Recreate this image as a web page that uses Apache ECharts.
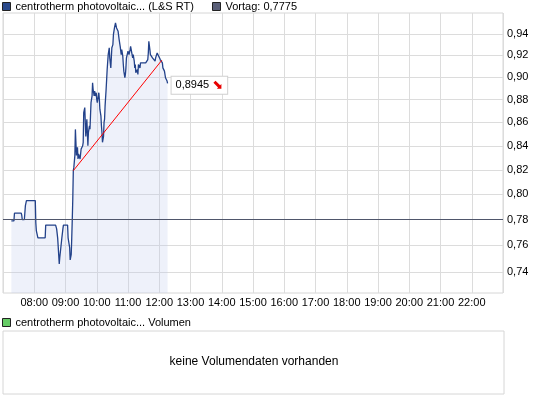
<!DOCTYPE html>
<html><head><meta charset="utf-8">
<script src="https://cdn.jsdelivr.net/npm/echarts@6/dist/echarts.min.js"></script>
<style>html,body{margin:0;padding:0;background:#fff}#c{width:545px;height:398px}</style>
</head><body><div id="c"></div>
<script>
// ---- data ----
const day = '2011-06-01';
const times = [
'07:16','07:21','07:22','07:35','07:36','07:37','07:41','07:43','07:45','08:02',
'08:03','08:04','08:06','08:07','08:21','08:22','08:41','08:43','08:45','08:48',
'08:49','08:51','08:53','08:55','08:56','09:04','09:05','09:08','09:09','09:11',
'09:12','09:13','09:14','09:15','09:16','09:18','09:19','09:20','09:21','09:23',
'09:24','09:25','09:27','09:28','09:29','09:30','09:32','09:33','09:34','09:35',
'09:37','09:38','09:39','09:41','09:42','09:43','09:44','09:46','09:47','09:48',
'09:49','09:51','09:52','09:53','09:55','09:56','09:57','09:59','10:00','10:01',
'10:02','10:04','10:05','10:06','10:08','10:09','10:10','10:11','10:13','10:14',
'10:15','10:16','10:18','10:19','10:20','10:22','10:23','10:24','10:25','10:27',
'10:28','10:29','10:31','10:32','10:33','10:34','10:36','10:37','10:38','10:40',
'10:41','10:42','10:43','10:45','10:46','10:47','10:48','10:50','10:51','10:52',
'10:54','10:55','10:56','10:57','10:59','11:00','11:01','11:02','11:04','11:05',
'11:06','11:08','11:09','11:10','11:12','11:13','11:14','11:15','11:17','11:18',
'11:19','11:20','11:22','11:23','11:24','11:25','11:26','11:29','11:31','11:34',
'11:36','11:38','11:39','11:40','11:42','11:43','11:44','11:45','11:47','11:48',
'11:49','11:50','11:52','11:53','11:54','11:56','11:57','11:58','11:59','12:01',
'12:02','12:03','12:05','12:06','12:07','12:08','12:10','12:11','12:12','12:13',
'12:15','12:16'
];
const prices = [
0.7790,0.7790,0.7850,0.7850,0.7834,0.7800,0.7800,0.7910,0.7950,0.7950,
0.7775,0.7714,0.7705,0.7658,0.7658,0.7757,0.7757,0.7727,0.7656,0.7460,
0.7508,0.7582,0.7658,0.7727,0.7757,0.7757,0.7658,0.7582,0.7490,0.7532,
0.7656,0.7800,0.7965,0.8193,0.8220,0.8320,0.8540,0.8528,0.8320,0.8387,
0.8290,0.8332,0.8346,0.8290,0.8332,0.8373,0.8360,0.8401,0.8430,0.8686,
0.8730,0.8600,0.8480,0.8628,0.8514,0.8401,0.8514,0.8571,0.8542,0.8657,
0.8773,0.8832,0.8950,0.8891,0.8832,0.8876,0.8832,0.8861,0.8802,0.8773,
0.8802,0.8861,0.8802,0.8715,0.8657,0.8571,0.8514,0.8430,0.8480,0.8600,
0.8628,0.8744,0.8891,0.8980,0.9070,0.9207,0.9192,0.9270,0.9177,0.9085,
0.9177,0.9270,0.9300,0.9393,0.9393,0.9457,0.9504,0.9504,0.9457,0.9440,
0.9425,0.9409,0.9347,0.9284,0.9300,0.9207,0.9253,0.9192,0.9116,0.9055,
0.8995,0.9025,0.9085,0.9177,0.9192,0.9238,0.9253,0.9207,0.9253,0.9284,
0.9300,0.9270,0.9177,0.9207,0.9146,0.9085,0.9116,0.9040,0.9025,0.9070,
0.9025,0.9116,0.9100,0.9085,0.9131,0.9116,0.9146,0.9131,0.9146,0.9131,
0.9146,0.9161,0.9222,0.9331,0.9253,0.9207,0.9222,0.9192,0.9177,0.9192,
0.9177,0.9192,0.9146,0.9177,0.9192,0.9222,0.9222,0.9207,0.9192,0.9177,
0.9161,0.9155,0.9146,0.9131,0.9085,0.9070,0.9055,0.9040,0.8995,0.8980,
0.8965,0.8945
];
const trendTimes = ['09:15', '12:05'];
const trendPrices = [0.8193, 0.9155];
const prevClose = 0.7775;
const yTicks = [0.74, 0.76, 0.78, 0.80, 0.82, 0.84, 0.86, 0.88, 0.90, 0.92, 0.94];
const yRange = [0.7245, 0.96];
const xRange = ['07:00', '23:00'];
const seriesName = 'centrotherm photovoltaic... (L&S RT)';
const prevName = 'Vortag: 0,7775';
const volName = 'centrotherm photovoltaic... Volumen';
const noVolText = 'keine Volumendaten vorhanden';

// ---- chart ----
const font = '"Liberation Sans", Arial, sans-serif';
const ts = t => day + ' ' + t;
const comma = (v, d) => v.toFixed(d).replace('.', ',');
const xMin = echarts.time.parse(ts(xRange[0])).getTime();
const xMax = echarts.time.parse(ts(xRange[1])).getTime();
const chart = echarts.init(document.getElementById('c'), null, {renderer: 'canvas'});
const legendBase = {padding: 0, icon: 'rect', itemWidth: 8, itemHeight: 8, itemGap: 5,
  selectedMode: false, textStyle: {fontSize: 11, color: '#000', fontFamily: font}};
chart.setOption({
  animation: false,
  textStyle: {fontFamily: font},
  legend: [
    Object.assign({left: 2, top: 1, data: [{name: seriesName, itemStyle: {color: '#2b4a8b', borderColor: '#222', borderWidth: 1}}]}, legendBase),
    Object.assign({left: 212, top: 1, data: [{name: prevName, itemStyle: {color: '#5a5f78', borderColor: '#222', borderWidth: 1}}]}, legendBase),
    Object.assign({left: 2, top: 317, data: [{name: volName, itemStyle: {color: '#66cc66', borderColor: '#222', borderWidth: 1}}]}, legendBase)
  ],
  grid: [
    {left: 3, top: 13, width: 500, height: 280, show: true, borderColor: '#d6d6d6', borderWidth: 1, containLabel: false, outerBoundsMode: 'none'},
    {left: 3, top: 331, width: 501, height: 63, show: true, borderColor: '#d6d6d6', borderWidth: 1, containLabel: false, outerBoundsMode: 'none'}
  ],
  xAxis: [
    {type: 'time', gridIndex: 0, min: xMin, max: xMax,
     minInterval: 3600000, maxInterval: 3600000,
     axisLine: {show: false}, axisTick: {show: false},
     splitLine: {show: true, lineStyle: {color: '#dcdcdc', width: 1}},
     axisLabel: {formatter: v => (v <= xMin || v >= xMax) ? '' : echarts.time.format(v, '{HH}:{mm}', false),
       fontSize: 11, color: '#000', margin: 4, hideOverlap: false}},
    {type: 'value', gridIndex: 1, show: false, min: 0, max: 1}
  ],
  yAxis: [
    {type: 'log', gridIndex: 0, position: 'right', min: yRange[0], max: yRange[1],
     axisLine: {show: false}, axisTick: {show: false, customValues: yTicks},
     splitLine: {show: true, lineStyle: {color: '#dcdcdc', width: 1}},
     axisLabel: {customValues: yTicks, formatter: v => comma(v, 2), fontSize: 11, color: '#000', margin: 4}},
    {type: 'value', gridIndex: 1, show: false, min: 0, max: 1}
  ],
  graphic: [
    {type: 'text', x: 254, y: 362, silent: true,
     style: {text: noVolText, fontSize: 12, fill: '#000', fontFamily: font, align: 'center', verticalAlign: 'middle'}}
  ],
  series: [
    {type: 'line', name: prevName, xAxisIndex: 0, yAxisIndex: 0, data: [],
     itemStyle: {color: '#5a5f78'},
     markLine: {symbol: 'none', silent: true, label: {show: false},
       lineStyle: {color: '#4f566b', width: 1, type: 'solid'}, data: [{yAxis: prevClose}]}},
    {type: 'line', name: seriesName, xAxisIndex: 0, yAxisIndex: 0, z: 3,
     data: times.map((t, i) => [ts(t), prices[i]]),
     symbol: 'none', showSymbol: false,
     lineStyle: {color: '#23428a', width: 1.3},
     itemStyle: {color: '#23428a'},
     areaStyle: {color: 'rgba(192,204,235,0.38)', origin: 'start'},
     endLabel: {show: true, distance: 4, offset: [0, 2],
       formatter: p => comma(p.value[1], 4) + ' {a|\u2B0A}',
       backgroundColor: '#fff', borderColor: '#d0d0d0', borderWidth: 1, padding: [2, 4, 2, 4],
       fontSize: 11, color: '#000', fontFamily: font,
       rich: {a: {color: '#e80000', fontSize: 13, fontFamily: '"DejaVu Sans"'}}}},
    {type: 'line', name: 'trend', xAxisIndex: 0, yAxisIndex: 0, z: 4, silent: true,
     data: trendTimes.map((t, i) => [ts(t), trendPrices[i]]),
     symbol: 'none', lineStyle: {color: '#ff0000', width: 1}},
    {type: 'bar', name: volName, xAxisIndex: 1, yAxisIndex: 1, data: [], itemStyle: {color: '#66cc66'}}
  ]
});
</script></body></html>
